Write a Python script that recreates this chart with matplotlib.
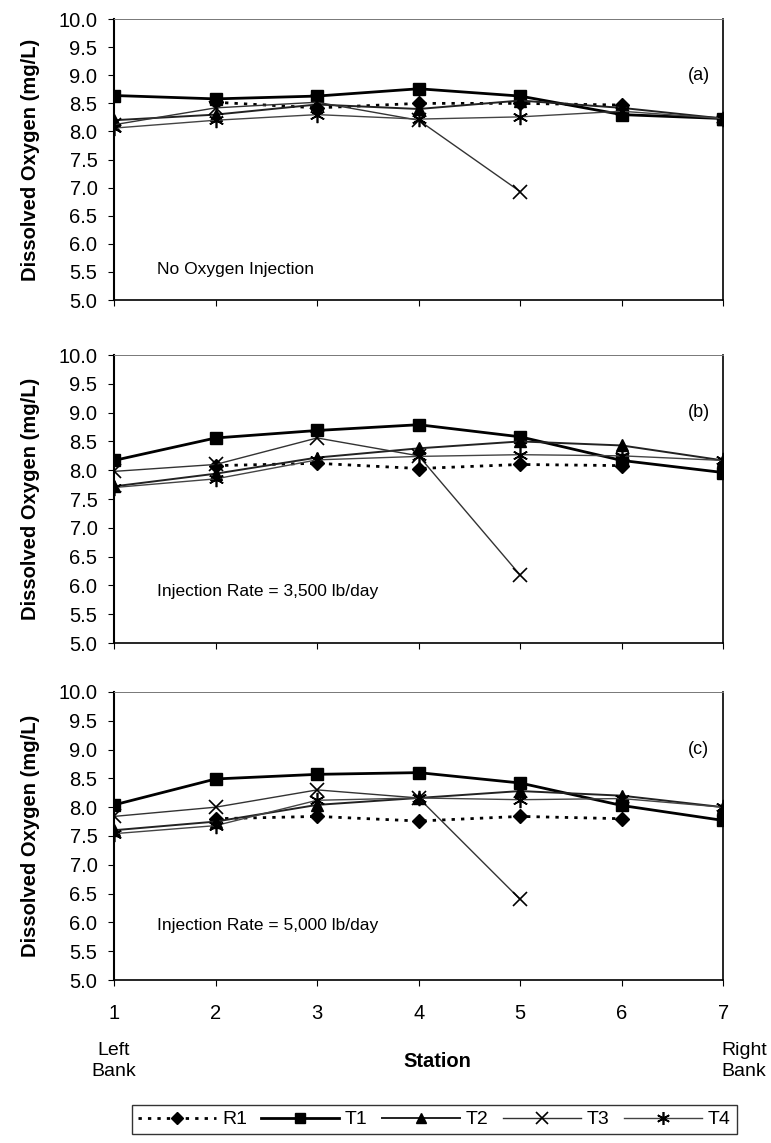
import numpy as np
import matplotlib
matplotlib.use("Agg")
import matplotlib.pyplot as plt

plt.rcParams['font.family'] = ['Liberation Sans', 'DejaVu Sans']

nan = np.nan
stations = [1, 2, 3, 4, 5, 6, 7]
y_ticks = [5.0, 5.5, 6.0, 6.5, 7.0, 7.5, 8.0, 8.5, 9.0, 9.5, 10.0]
series_names = ["R1", "T1", "T2", "T3", "T4"]

# (a) no oxygen injection
a_R1 = [nan, 8.52, 8.42, 8.50, 8.50, 8.47, nan]
a_T1 = [8.64, 8.58, 8.63, 8.76, 8.63, 8.30, 8.23]
a_T2 = [8.20, 8.30, 8.48, 8.40, 8.55, 8.42, 8.23]
a_T3 = [8.12, 8.42, 8.52, 8.20, 6.93, nan, nan]
a_T4 = [8.06, 8.20, 8.30, 8.22, 8.26, 8.36, 8.23]

# (b) injection rate 3,500 lb/day
b_R1 = [nan, 8.08, 8.12, 8.03, 8.10, 8.08, nan]
b_T1 = [8.17, 8.56, 8.69, 8.79, 8.58, 8.17, 7.96]
b_T2 = [7.72, 7.94, 8.22, 8.38, 8.50, 8.43, 8.17]
b_T3 = [7.98, 8.10, 8.56, 8.25, 6.18, nan, nan]
b_T4 = [7.70, 7.85, 8.18, 8.24, 8.27, 8.25, 8.17]

# (c) injection rate 5,000 lb/day
c_R1 = [nan, 7.80, 7.84, 7.76, 7.84, 7.80, nan]
c_T1 = [8.04, 8.49, 8.57, 8.60, 8.42, 8.03, 7.77]
c_T2 = [7.60, 7.75, 8.04, 8.16, 8.28, 8.20, 8.00]
c_T3 = [7.84, 8.00, 8.30, 8.16, 6.40, nan, nan]
c_T4 = [7.54, 7.68, 8.12, 8.16, 8.13, 8.15, 8.00]

panels = [
    ("(a)", "No Oxygen Injection", 5.55, [a_R1, a_T1, a_T2, a_T3, a_T4]),
    ("(b)", "Injection Rate = 3,500 lb/day", 5.9, [b_R1, b_T1, b_T2, b_T3, b_T4]),
    ("(c)", "Injection Rate = 5,000 lb/day", 5.95, [c_R1, c_T1, c_T2, c_T3, c_T4]),
]

styles = {
    "R1": dict(color="black", ls=(0, (1.2, 2.2)), lw=2.0, marker="D", ms=7, mfc="black", mec="black"),
    "T1": dict(color="black", ls="-", lw=2.0, marker="s", ms=9, mfc="black", mec="black"),
    "T2": dict(color="#222222", ls="-", lw=1.4, marker="^", ms=8, mfc="black", mec="black"),
    "T3": dict(color="#333333", ls="-", lw=1.0, marker="x", ms=10, mew=1.2, mec="black"),
    "T4": dict(color="#444444", ls="-", lw=1.0, marker=(6, 2, 0), ms=11, mew=1.2, mec="black"),
}

fig = plt.figure(figsize=(7.71, 11.43), dpi=100)
ax_rects = [
    [0.148, 0.7375, 0.790, 0.2458],
    [0.148, 0.4374, 0.790, 0.2520],
    [0.148, 0.1426, 0.790, 0.2520],
]

handles = []
for i, (tag, note, note_y, data) in enumerate(panels):
    ax = fig.add_axes(ax_rects[i])
    for name, vals in zip(series_names, data):
        h, = ax.plot(stations, vals, label=name, **styles[name])
        if i == 0:
            handles.append(h)
    ax.set_xlim(1, 7)
    ax.set_ylim(5.0, 10.0)
    ax.set_yticks(y_ticks)
    ax.set_yticklabels([f"{v:.1f}" for v in y_ticks], fontsize=14.5)
    ax.set_xticks(stations)
    if i == 2:
        ax.set_xticklabels([str(s) for s in stations], fontsize=14.5)
        ax.tick_params(axis="x", pad=13)
    else:
        ax.set_xticklabels([])
    ax.tick_params(axis="both", direction="out", length=4, width=0.8)
    ax.tick_params(axis="y", pad=8)
    ax.set_ylabel("Dissolved Oxygen (mg/L)", fontsize=14.5, fontweight="bold", labelpad=13)
    ax.spines["left"].set_linewidth(1.5)
    ax.spines["right"].set_linewidth(1.2)
    ax.spines["bottom"].set_linewidth(1.2)
    ax.spines["top"].set_linewidth(0.7)
    ax.spines["top"].set_color("#777777")
    ax.text(6.76, 9.0, tag, fontsize=13, ha="center", va="center")
    ax.text(1.42, note_y, note, fontsize=12.5, ha="left", va="center")
    ax.set_facecolor("white")

fig.text(0.147, 0.072, "Left\nBank", fontsize=14, ha="center", va="center", linespacing=1.3)
fig.text(0.965, 0.072, "Right\nBank", fontsize=14, ha="center", va="center", linespacing=1.3)
fig.text(0.567, 0.071, "Station", fontsize=14.5, fontweight="bold", ha="center", va="center")

leg = fig.legend(handles=handles, labels=series_names, loc="center",
                 bbox_to_anchor=(0.5636, 0.0205), ncol=5, fontsize=14,
                 frameon=True, fancybox=False, edgecolor="black",
                 handlelength=4.0, handletextpad=0.3, columnspacing=0.75,
                 borderpad=0.3, borderaxespad=0, markerscale=0.85)
leg.get_frame().set_linewidth(1.0)

fig.savefig("out.png", dpi=100, facecolor="white")
